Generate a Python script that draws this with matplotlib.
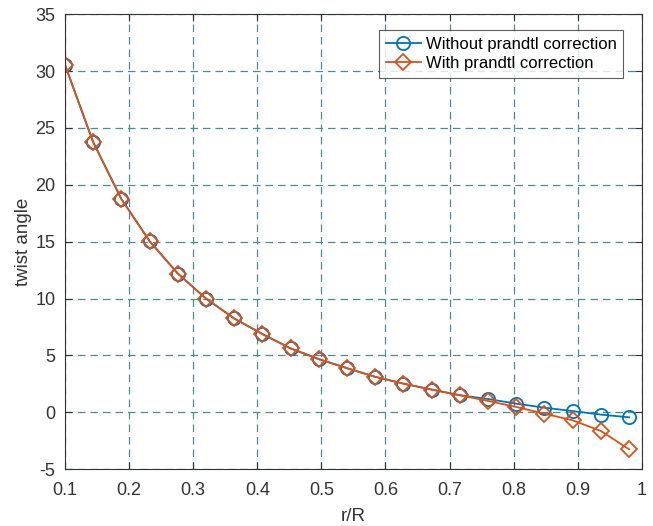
import numpy as np
import matplotlib
matplotlib.use("Agg")
import matplotlib.pyplot as plt

r_R = [0.100, 0.144, 0.188, 0.232, 0.276, 0.320, 0.364, 0.408, 0.452, 0.496,
       0.540, 0.584, 0.628, 0.672, 0.716, 0.760, 0.804, 0.848, 0.892, 0.936, 0.980]
twist_no_prandtl = [30.55, 23.75, 18.75, 15.05, 12.2, 10.0, 8.25, 6.88, 5.62, 4.68,
                    3.88, 3.12, 2.52, 2.0, 1.5, 1.17, 0.76, 0.41, 0.11, -0.2, -0.44]
twist_prandtl = [30.55, 23.75, 18.75, 15.05, 12.2, 10.0, 8.25, 6.88, 5.62, 4.68,
                 3.88, 3.12, 2.52, 2.0, 1.5, 1.0, 0.47, -0.12, -0.7, -1.64, -3.25]

blue = "#0072BD"
orange = "#D95319"

plt.rcParams["font.family"] = ["Liberation Sans", "DejaVu Sans"]
plt.rcParams["axes.unicode_minus"] = False

fig = plt.figure(figsize=(6.53, 5.26), dpi=100)
ax = fig.add_axes([0.0995, 0.108, 0.8835, 0.865])

ax.plot(r_R, twist_no_prandtl, color=blue, marker="o", ms=9.5, mfc="none",
        mew=1.3, lw=1.3, label="Without prandtl correction")
ax.plot(r_R, twist_prandtl, color=orange, marker="D", ms=8, mfc="none",
        mew=1.3, lw=1.3, label="With prandtl correction")

ax.set_xlim(0.1, 1.0)
ax.set_ylim(-5, 35)
ax.set_xticks(np.arange(0.1, 1.01, 0.1))
ax.set_xticklabels(["0.1", "0.2", "0.3", "0.4", "0.5", "0.6", "0.7", "0.8", "0.9", "1"])
ax.set_yticks(np.arange(-5, 36, 5))

ax.grid(True, color="#4d8a93", ls=(0, (6, 4)), lw=0.9)
ax.tick_params(direction="in", labelsize=13, colors="#333333", length=5,
               top=True, right=True)
ax.tick_params(axis="x", pad=9)
ax.tick_params(axis="y", pad=7)
for s in ax.spines.values():
    s.set_color("#333333")
    s.set_linewidth(0.8)

ax.set_xlabel("r/R", fontsize=13.5, color="#333333", labelpad=7)
ax.set_ylabel("twist angle", fontsize=13.5, color="#333333", labelpad=2)

leg = ax.legend(loc="upper right", bbox_to_anchor=(0.968, 0.965), fontsize=12,
                frameon=True, fancybox=False, borderpad=0.4, labelspacing=0.25,
                handlelength=2.1, handletextpad=0.3, borderaxespad=0)
leg.get_frame().set_edgecolor("#333333")
leg.get_frame().set_linewidth(0.8)

fig.savefig("out.png", dpi=100)
